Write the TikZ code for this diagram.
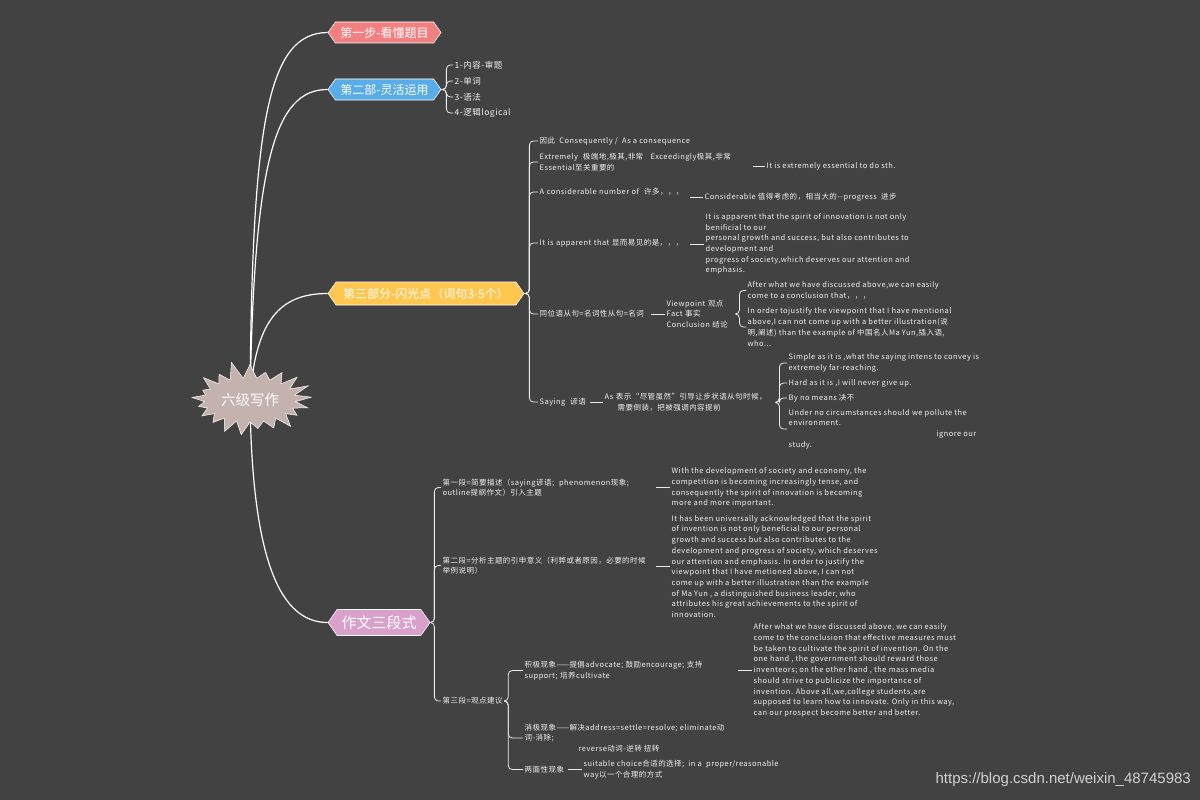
\documentclass[tikz,border=0pt]{standalone}
\usepackage{fontspec}
\setmainfont{Noto Sans CJK SC}
\newfontfamily\leaffam{Noto Sans CJK SC}[LetterSpace=6]
\newfontfamily\urlfont{Liberation Sans}
\usetikzlibrary{shapes.symbols}
\definecolor{slate}{RGB}{66,66,66}
\definecolor{salmon}{RGB}{242,128,128}
\definecolor{sky}{RGB}{88,172,232}
\definecolor{amber}{RGB}{255,198,80}
\definecolor{orchid}{RGB}{218,160,204}
\definecolor{rose}{RGB}{196,178,174}
\newcommand{\leaffont}{\leaffam\fontsize{7.5}{10.7}\selectfont}

\begin{document}
\begin{tikzpicture}[x=1pt,y=-1pt,
  topic/.style={signal, signal to=west and east, signal pointer angle=110, draw=white,
    line width=0.6pt, text=white, inner sep=0pt, font=\fontsize{12}{14}\selectfont},
  leaf/.style={anchor=west, align=left, inner sep=1.5pt, text=white!94!black, font=\leaffont},
  trunk/.style={draw=white, line width=1.2pt},
  link/.style={draw=white!92!black, line width=0.8pt, rounded corners=4pt}]

\useasboundingbox (0,0) rectangle (1200,800);
\fill[slate] (0,0) rectangle (1200,800);

% main topics
\node[topic, fill=salmon, minimum width=113pt, minimum height=21pt] (s1) at (384.5,32.5) {第一步-看懂题目};
\node[topic, fill=sky, minimum width=113pt, minimum height=21pt] (s2) at (384.5,89.5) {第二部-灵活运用};
\node[topic, fill=amber, minimum width=196pt, minimum height=23pt] (s3) at (426,293.5) {第三部分-闪光点（词句3-5个）};
\node[topic, fill=orchid, minimum width=102pt, minimum height=26pt, font=\fontsize{15}{17}\selectfont] (s4) at (379,622.5) {作文三段式};

\coordinate (hubc) at (250,400);
\draw[trunk] (hubc) .. controls (252,120) and (268,33) .. (s1.west);
\draw[trunk] (hubc) .. controls (254,160) and (275,89.5) .. (s2.west);
\draw[trunk] (hubc) .. controls (255,320) and (280,293.5) .. (s3.west);
\draw[trunk] (hubc) .. controls (252,560) and (280,622.5) .. (s4.west);
\node[starburst, starburst points=21, starburst point height=18pt, random starburst=11,
  fill=rose, draw=white, line width=0.5pt, minimum width=104pt, minimum height=80pt,
  text=white, font=\fontsize{14.5}{16}\selectfont] (hub) at (hubc) {六级写作};

% 第二部
\foreach \t [count=\i] in {1-内容-审题, 2-单词, 3-语法, 4-逻辑logical}
  \node[leaf, font=\leaffam\fontsize{8.5}{10}\selectfont] (c\i) at (453,49+16*\i) {\t};
\foreach \i in {1,...,4}
  \draw[link] (s2.east) -- ++(5,0) |- (c\i.west);

% 第三部分
\node[leaf] (p1) at (538,141) {因此~ Consequently /~ As a consequence};
\node[leaf, text width=212pt] (p2) at (538,162) {Extremely~ 极端地,极其,非常\quad Exceedingly极其,非常\\Essential至关重要的};
\node[leaf, text width=149pt] (p3) at (538,192) {A considerable number of~ 许多，，，};
\node[leaf, text width=149pt] (p4) at (538,243) {It is apparent that 显而易见的是，，，};
\node[leaf, text width=110pt] (p5) at (538,314) {同位语从句=名词性从句=名词};
\node[leaf, text width=49pt] (p6) at (538,402) {Saying~ 谚语};
\foreach \i in {1,...,6}
  \draw[link] (s3.east) -- ++(5,0) |- (p\i.west);

\node[leaf] (p2a) at (765,166) {It is extremely essential to do sth.};
\node[leaf] (p3a) at (703,197) {Considerable 值得考虑的，相当大的--progress~ 进步};
\node[leaf] (p4a) at (704,244) {It is apparent that the spirit of innovation is not only\\benificial to our\\personal growth and success, but also contributes to\\development and\\progress of society,which deserves our attention and\\emphasis.};
\node[leaf, text width=67pt] (p5a) at (665,314) {Viewpoint 观点\\Fact 事实\\Conclusion 结论};
\node[leaf, text width=169pt] (p6a) at (603,402.5) {As 表示“尽管虽然”引导让步状语从句时候，\\\hspace*{13pt}需要倒装，把被强调内容提前};
\foreach \a in {2,...,6}
  \draw[link] (p\a.east |- p\a a.west) -- (p\a a.west);

\node[leaf] (p5b) at (746,290.5) {After what we have discussed above,we can easily\\come to a conclusion that，，，};
\node[leaf] (p5c) at (746,327) {In order tojustify the viewpoint that I have mentional\\above,I can not come up with a better illustration(说\\明,阐述) than the example of 中国名人Ma Yun,插入语,\\who...};
\foreach \b in {b,c}
  \draw[link] (p5a.east) -- ++(4,0) |- (p5\b.west);

\node[leaf] (p6b) at (787,363) {Simple as it is ,what the saying intens to convey is\\extremely far-reaching.};
\node[leaf] (p6c) at (787,383) {Hard as it is ,I will never give up.};
\node[leaf] (p6d) at (787,398) {By no means 决不};
\node[leaf] (p6e) at (787,429) {Under no circumstances should we pollute the\\environment.\\\hspace*{148pt}ignore our\\study.};
\foreach \b in {b,...,e}
  \draw[link] (p6a.east) -- ++(4,0) |- (p6\b.west);

% 作文三段式
\node[leaf, text width=212pt] (m1) at (441,487.5) {第一段=简要描述（saying谚语;~ phenomenon现象;\\outline提纲作文）引入主题};
\node[leaf, text width=212pt] (m2) at (441,565.5) {第二段=分析主题的引申意义（利弊或者原因，必要的时候\\举例说明）};
\node[leaf] (m3) at (441,701) {第三段=观点建议};
\foreach \i in {1,2,3}
  \draw[link] (s4.east) -- ++(4,0) |- (m\i.west);

\node[leaf] (m1a) at (670,487.5) {With the development of society and economy, the\\competition is becoming increasingly tense, and\\consequently the spirit of innovation is becoming\\more and more important.};
\node[leaf] (m2a) at (670,566.5) {It has been universally acknowledged that the spirit\\of invention is not only beneficial to our personal\\growth and success but also contributes to the\\development and progress of society, which deserves\\our attention and emphasis. In order to justify the\\viewpoint that I have metioned above, I can not\\come up with a better illustration than the example\\of Ma Yun , a distinguished business leader, who\\attributes his great achievements to the spirit of\\innovation.};
\foreach \i in {1,2}
  \draw[link] (m\i.east |- m\i a.west) -- (m\i a.west);

\node[leaf, text width=212pt] (m3a) at (523,670.5) {积极现象——提倡advocate; 鼓励encourage; 支持\\support; 培养cultivate};
\node[leaf] (m3b) at (523,738) {消极现象——解决address=settle=resolve; eliminate动\\词-消除;\\\hspace*{54pt}reverse动词-逆转 扭转};
\node[leaf, text width=42pt] (m3c) at (523,769.5) {两面性现象};
\foreach \b in {a,b,c}
  \draw[link] (m3.east) -- ++(4,0) |- (m3\b.west);

\node[leaf] (m3aa) at (752,670.5) {After what we have discussed above, we can easily\\come to the conclusion that effective measures must\\be taken to cultivate the spirit of invention. On the\\one hand , the government should reward those\\inventeors; on the other hand , the mass media\\should strive to publicize the importance of\\invention. Above all,we,college students,are\\supposed to learn how to innovate. Only in this way,\\can our prospect become better and better.};
\node[leaf] (m3ca) at (582,769.5) {suitable choice合适的选择;~ in a~ proper/reasonable\\way以一个合理的方式};
\foreach \b in {a,c}
  \draw[link] (m3\b.east |- m3\b a.west) -- (m3\b a.west);

\node[anchor=east, inner sep=0pt, text=white!82!black, font=\urlfont\fontsize{15}{18}\selectfont] (wm) at (1191,780) {https://blog.csdn.net/weixin\_48745983};
\end{tikzpicture}
\end{document}
